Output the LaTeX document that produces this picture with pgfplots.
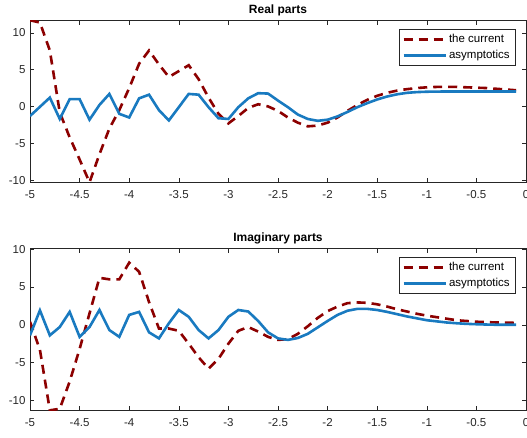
\documentclass[border=0pt]{standalone}
\usepackage{pgfplots}
\pgfplotsset{compat=1.18}
\usepackage{fontspec}
\setmainfont{Liberation Sans}
\definecolor{mred}{RGB}{140,0,0}
\definecolor{mblue}{RGB}{25,122,192}
\definecolor{axgray}{RGB}{38,38,38}
\pgfplotsset{
  myax/.style={
    scale only axis, width=496pt, height=162pt,
    xmin=-5, xmax=0,
    xtick={-5,-4.5,...,0},
    ytick={-10,-5,0,5,10},
    tick align=inside, major tick length=4.5pt,
    xtick pos=both, ytick pos=both,
    axis line style={axgray, line width=0.5pt},
    tick style={axgray, line width=0.5pt},
    tick label style={font=\fontsize{11.5}{13}\selectfont, text=axgray},
    /pgf/number format/assume math mode=true,
    /pgf/number format/fixed,
    xticklabel style={yshift=-5pt},
    yticklabel style={xshift=-1pt},
    title style={font=\fontsize{12}{14}\selectfont\bfseries, yshift=-5pt},
    legend style={at={(1,1)}, anchor=north east, xshift=-11pt, yshift=-9pt,
      font=\fontsize{11.5}{13}\selectfont, draw=axgray, line width=0.5pt,
      inner xsep=3pt, inner ysep=3pt, row sep=2pt},
    legend cell align=left,
    legend image code/.code={\draw[#1] (0pt,0pt) -- (42pt,0pt);},
  },
  dsh/.style={mred, line width=2.6pt, dash pattern=on 9pt off 6pt},
  sol/.style={mblue, line width=2.6pt},
}
\begin{document}
\begin{tikzpicture}
\begin{axis}[myax, at={(30pt,254.7pt)}, anchor=south west,
  ymin=-10.3, ymax=11.7, title={Real parts}]
\addplot[dsh] coordinates {
(-5,11.7) (-4.9,11.4) (-4.8,7.6) (-4.7,-0.8) (-4.6,-4.2) (-4.5,-7.2) (-4.4,-10.3)
(-4.3,-6.5) (-4.2,-3.0) (-4.1,-0.5) (-4.0,2.5) (-3.9,5.8) (-3.8,7.6) (-3.7,5.7)
(-3.6,4.0) (-3.5,4.8) (-3.4,5.6) (-3.3,3.7) (-3.2,1.2) (-3.1,-1.0) (-3.0,-2.3)
(-2.9,-1.3) (-2.8,-0.2) (-2.7,0.3) (-2.6,0.0) (-2.5,-0.6) (-2.4,-1.5) (-2.3,-2.2)
(-2.2,-2.7) (-2.1,-2.6) (-2.0,-2.2) (-1.9,-1.5) (-1.8,-0.6) (-1.7,0.2) (-1.6,0.9)
(-1.5,1.45) (-1.4,1.85) (-1.3,2.15) (-1.2,2.35) (-1.1,2.5) (-1.0,2.6) (-0.9,2.65)
(-0.8,2.65) (-0.7,2.65) (-0.6,2.6) (-0.5,2.55) (-0.4,2.5) (-0.3,2.4) (-0.2,2.3) (-0.1,2.2)
};
\addlegendentry{the current}
\addplot[sol] coordinates {
(-5,-1.3) (-4.9,-0.05) (-4.8,1.2) (-4.7,-1.7) (-4.6,1.0) (-4.5,1.0) (-4.4,-1.8)
(-4.3,0.2) (-4.2,1.7) (-4.1,-1.0) (-4.0,-1.5) (-3.9,1.1) (-3.8,1.6) (-3.7,-0.5)
(-3.6,-1.9) (-3.5,-0.1) (-3.4,1.7) (-3.3,1.6) (-3.2,-0.1) (-3.1,-1.6) (-3.0,-1.7)
(-2.9,-0.1) (-2.8,1.1) (-2.7,1.8) (-2.6,1.75) (-2.5,0.8) (-2.4,-0.1) (-2.3,-1.1)
(-2.2,-1.7) (-2.1,-1.95) (-2.0,-1.8) (-1.9,-1.35) (-1.8,-0.75) (-1.7,-0.1) (-1.6,0.45)
(-1.5,0.95) (-1.4,1.35) (-1.3,1.65) (-1.2,1.85) (-1.1,1.95) (-1.0,2.0) (-0.9,2.02)
(-0.8,2.03) (-0.7,2.03) (-0.6,2.03) (-0.5,2.03) (-0.4,2.03) (-0.3,2.03) (-0.2,2.03) (-0.1,2.03)
};
\addlegendentry{asymptotics}
\end{axis}
\begin{axis}[myax, at={(30pt,26.7pt)}, anchor=south west,
  ymin=-11.3, ymax=10.1, title={Imaginary parts}]
\addplot[dsh] coordinates {
(-5,0.4) (-4.9,-3.3) (-4.8,-11.3) (-4.7,-11.1) (-4.6,-7.5) (-4.5,-3.2) (-4.4,1.5)
(-4.3,6.2) (-4.2,6.0) (-4.1,6.0) (-4.0,8.2) (-3.9,7.0) (-3.8,3.0) (-3.7,-0.5)
(-3.6,-0.5) (-3.5,-0.8) (-3.4,-2.5) (-3.3,-4.3) (-3.2,-5.8) (-3.1,-4.5) (-3.0,-2.5)
(-2.9,-0.8) (-2.8,-0.3) (-2.7,-0.9) (-2.6,-1.6) (-2.5,-2.0) (-2.4,-1.9) (-2.3,-1.2)
(-2.2,-0.2) (-2.1,0.9) (-2.0,1.8) (-1.9,2.4) (-1.8,2.85) (-1.7,2.95) (-1.6,2.9)
(-1.5,2.7) (-1.4,2.4) (-1.3,2.05) (-1.2,1.75) (-1.1,1.45) (-1.0,1.2) (-0.9,1.0)
(-0.8,0.8) (-0.7,0.6) (-0.6,0.5) (-0.5,0.4) (-0.4,0.35) (-0.3,0.3) (-0.2,0.28) (-0.1,0.25)
};
\addlegendentry{the current}
\addplot[sol] coordinates {
(-5,-1.4) (-4.9,1.9) (-4.8,-1.4) (-4.7,-0.3) (-4.6,1.7) (-4.5,-1.6) (-4.4,-0.3)
(-4.3,1.95) (-4.2,-0.7) (-4.1,-1.6) (-4.0,1.3) (-3.9,1.7) (-3.8,-1.0) (-3.7,-1.8)
(-3.6,0.2) (-3.5,1.95) (-3.4,1.05) (-3.3,-0.7) (-3.2,-1.8) (-3.1,-0.7) (-3.0,1.05)
(-2.9,1.95) (-2.8,1.75) (-2.7,0.5) (-2.6,-1.0) (-2.5,-1.8) (-2.4,-2.0) (-2.3,-1.75)
(-2.2,-1.2) (-2.1,-0.35) (-2.0,0.5) (-1.9,1.3) (-1.8,1.85) (-1.7,2.1) (-1.6,2.1)
(-1.5,1.95) (-1.4,1.7) (-1.3,1.4) (-1.2,1.1) (-1.1,0.85) (-1.0,0.6) (-0.9,0.45)
(-0.8,0.3) (-0.7,0.2) (-0.6,0.12) (-0.5,0.07) (-0.4,0.03) (-0.3,0.0) (-0.2,0.0) (-0.1,0.0)
};
\addlegendentry{asymptotics}
\end{axis}
\pgfresetboundingbox
\path (0pt,0pt) rectangle (527pt,437pt);
\end{tikzpicture}
\end{document}
